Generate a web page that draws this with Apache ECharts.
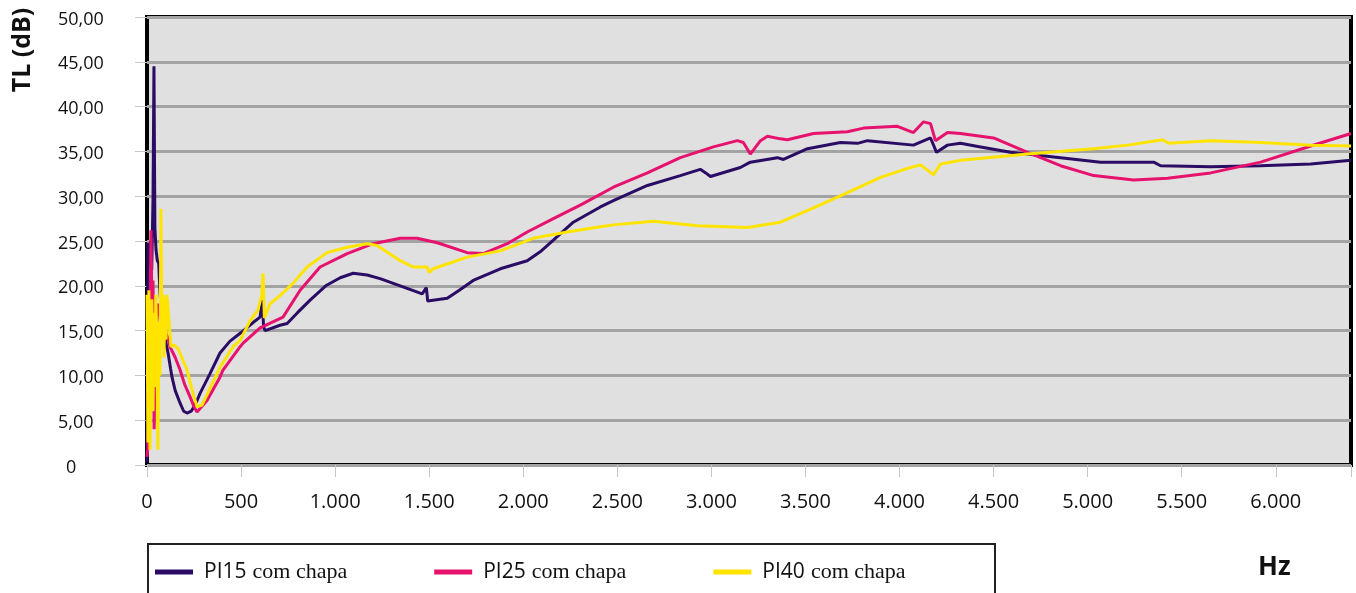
<html>
    <head>
        <meta charset="utf-8">
        <script src="https://cdn.jsdelivr.net/npm/echarts@6/dist/echarts.min.js"></script>
        <style>
            html, body { margin: 0; padding: 0; background: #fff; }
            #main { width: 1356px; height: 593px; }
        </style>
    </head>
    <body>
        <div id="main"></div>
        <script>
            // [Hz, dB]
            var pi15 = [
                [0, 0.3], [5, 24.8], [12, 22], [18, 25], [25, 21.7], [32, 29.8], [37, 44.5], [42, 26.5],
                [48, 24], [55, 22.8], [62, 22.5], [70, 19], [80, 16.1], [92, 14.5], [101, 13.6], [112, 12.5],
                [125, 10.8], [133, 9.8], [150, 8.3], [176, 6.9], [195, 6.0], [213, 5.8], [235, 6.0], [250, 6.5],
                [266, 7.2], [282, 8.0], [335, 10.2], [388, 12.5], [440, 13.8], [495, 14.7], [564, 15.9], [601, 16.5],
                [612, 18.4], [620, 15.4], [628, 15.0], [707, 15.6], [745, 15.8], [800, 17.0], [867, 18.4], [950, 20.0],
                [1027, 20.9], [1096, 21.4], [1170, 21.2], [1239, 20.8], [1346, 20.0], [1463, 19.1], [1485, 19.8], [1492, 18.3],
                [1500, 18.4], [1596, 18.6], [1660, 19.5], [1734, 20.6], [1878, 21.9], [2021, 22.8], [2090, 23.8], [2160, 25.1],
                [2266, 27.1], [2410, 28.8], [2479, 29.5], [2660, 31.2], [2835, 32.3], [2941, 33.0], [2970, 32.6], [2995, 32.2],
                [3154, 33.2], [3207, 33.8], [3351, 34.3], [3383, 34.1], [3511, 35.3], [3686, 36.0], [3777, 35.9], [3830, 36.2],
                [4074, 35.7], [4165, 36.5], [4197, 34.9], [4255, 35.7], [4324, 35.9], [4431, 35.5], [4590, 34.9], [4856, 34.3],
                [5069, 33.8], [5351, 33.8], [5388, 33.4], [5654, 33.3], [5920, 33.4], [6186, 33.6], [6400, 34.0]
            ];
            var pi25 = [
                [0, 0.9], [5, 2], [10, 16], [15, 12.8], [21, 26.2], [26, 18], [32, 20.6], [38, 4],
                [44, 14], [50, 17], [60, 18], [70, 16], [85, 15.5], [100, 14.8], [110, 14.2], [122, 13.2],
                [150, 12], [176, 10.6], [200, 9], [229, 7.6], [250, 6.5], [266, 5.9], [282, 6.3], [319, 7.2],
                [388, 9.8], [404, 10.6], [495, 13.2], [511, 13.6], [601, 15.3], [692, 16.2], [723, 16.5], [814, 19.5],
                [920, 22.1], [1064, 23.6], [1202, 24.7], [1346, 25.3], [1436, 25.3], [1543, 24.8], [1702, 23.7], [1787, 23.6],
                [1915, 24.7], [2021, 26.0], [2160, 27.5], [2303, 29.0], [2479, 31.0], [2660, 32.6], [2835, 34.3], [3011, 35.5],
                [3138, 36.2], [3170, 36.0], [3207, 34.7], [3261, 36.2], [3298, 36.7], [3367, 36.4], [3404, 36.3], [3543, 37.0],
                [3723, 37.2], [3809, 37.6], [3989, 37.8], [4074, 37.1], [4128, 38.3], [4165, 38.1], [4191, 36.2], [4255, 37.1],
                [4324, 37.0], [4500, 36.5], [4681, 34.9], [4856, 33.4], [5032, 32.3], [5245, 31.8], [5425, 32.0], [5654, 32.6],
                [5920, 33.8], [6186, 35.6], [6400, 37.0]
            ];
            var pi40 = [
                [0, 19], [5, 2.5], [10, 19.5], [16, 1.7], [21, 14], [26, 18.5], [32, 6], [37, 17],
                [42, 8.7], [47, 19], [53, 12], [58, 1.7], [64, 16], [69, 10], [74, 28.6], [79, 14],
                [85, 19], [90, 12], [96, 18.7], [101, 14], [106, 19], [117, 16.1], [127, 13.2], [143, 13.4],
                [165, 13.0], [213, 10.6], [245, 8.0], [266, 6.5], [293, 6.7], [372, 10.2], [388, 10.9], [457, 13.2],
                [495, 13.9], [548, 16.1], [590, 17.3], [610, 19], [617, 21.4], [624, 16.4], [654, 18.0], [707, 18.9],
                [777, 20.3], [851, 22.1], [957, 23.7], [1064, 24.3], [1170, 24.7], [1223, 24.5], [1346, 22.8], [1415, 22.1],
                [1489, 22.1], [1500, 21.5], [1521, 21.9], [1702, 23.2], [1878, 23.9], [2053, 25.3], [2234, 26.0], [2410, 26.6],
                [2479, 26.8], [2692, 27.2], [2926, 26.7], [3191, 26.5], [3367, 27.1], [3543, 28.7], [3723, 30.4], [3899, 32.1],
                [4042, 33.1], [4112, 33.5], [4181, 32.4], [4218, 33.6], [4324, 34.0], [4681, 34.7], [5032, 35.3], [5213, 35.7],
                [5399, 36.3], [5431, 35.9], [5654, 36.2], [5920, 36.0], [6186, 35.7], [6400, 35.6]
            ];
            var seriesNames = ['PI15 com chapa', 'PI25 com chapa', 'PI40 com chapa'];
            var colors = ['#2a0c64', '#e6126e', '#ffe400'];

            function hzLabel(v) {
                if (v % 500 !== 0) return '';
                if (v < 1000) return String(v);
                var r = String(v % 1000);
                while (r.length < 3) r = '0' + r;
                return Math.floor(v / 1000) + '.' + r;
            }

            function dbLabel(v) {
                if (v === 0) return '{z|0}';
                return v.toFixed(2).replace('.', ',');
            }

            var chart = echarts.init(document.getElementById('main'));

            chart.setOption({
                animation: false,
                color: colors,
                grid: {
                    left: 147,
                    right: 5,
                    top: 17,
                    bottom: 128,
                    show: true,
                    backgroundColor: '#e0e0e0',
                    borderColor: '#000',
                    borderWidth: 4
                },
                xAxis: {
                    type: 'value',
                    min: 0,
                    max: 6400,
                    interval: 500,
                    axisLine: { show: false },
                    axisTick: { show: true, length: 12, lineStyle: { color: '#c8c8c8' } },
                    splitLine: { show: false },
                    axisLabel: {
                        formatter: hzLabel,
                        margin: 27,
                        fontFamily: 'Open Sans',
                        fontSize: 20,
                        color: '#111'
                    }
                },
                yAxis: {
                    type: 'value',
                    min: 0,
                    max: 50,
                    interval: 5,
                    axisLine: { show: false },
                    axisTick: { show: true, length: 12, lineStyle: { color: '#c8c8c8' } },
                    splitLine: { show: true, lineStyle: { color: '#a3a3a3', width: 3 } },
                    axisLabel: {
                        formatter: dbLabel,
                        align: 'left',
                        margin: 89,
                        padding: [5, 0, 0, 0],
                        fontFamily: 'Open Sans',
                        fontSize: 18,
                        color: '#111',
                        rich: {
                            z: { fontFamily: 'Open Sans', fontSize: 18, color: '#111', padding: [0, 0, 0, 8] }
                        }
                    }
                },
                legend: {
                    left: 155,
                    top: 561,
                    padding: 0,
                    icon: 'rect',
                    itemWidth: 38,
                    itemHeight: 5,
                    itemGap: 87,
                    data: seriesNames,
                    formatter: function (name) {
                        var p = name.split(' ');
                        return '{a|' + p[0] + '}{b|' + p.slice(1).join(' ') + '}';
                    },
                    textStyle: {
                        rich: {
                            a: { fontFamily: 'Open Sans', fontSize: 21, color: '#111', padding: [0, 0, 0, 6], lineHeight: 26 },
                            b: { fontFamily: 'Liberation Serif', fontSize: 22, color: '#111', padding: [0, 0, 0, 6], lineHeight: 26 }
                        }
                    }
                },
                graphic: [
                    {
                        type: 'rect',
                        shape: { x: 148, y: 544, width: 847, height: 60 },
                        style: { fill: 'none', stroke: '#222', lineWidth: 2 },
                        silent: true
                    },
                    {
                        type: 'text',
                        x: 23,
                        y: 50,
                        rotation: Math.PI / 2,
                        style: {
                            text: 'TL (dB)',
                            fontFamily: 'Open Sans',
                            fontWeight: 'bold',
                            fontSize: 25,
                            fill: '#111',
                            align: 'center',
                            verticalAlign: 'middle'
                        }
                    },
                    {
                        type: 'text',
                        x: 1258,
                        y: 568,
                        style: {
                            text: 'Hz',
                            fontFamily: 'Open Sans',
                            fontWeight: 'bold',
                            fontSize: 26,
                            fill: '#111',
                            align: 'left',
                            verticalAlign: 'middle'
                        }
                    }
                ],
                series: [pi15, pi25, pi40].map(function (d, i) {
                    return {
                        name: seriesNames[i],
                        type: 'line',
                        data: d,
                        showSymbol: false,
                        symbol: 'none',
                        lineStyle: { width: 3, color: colors[i] }
                    };
                })
            });
        </script>
    </body>
</html>
